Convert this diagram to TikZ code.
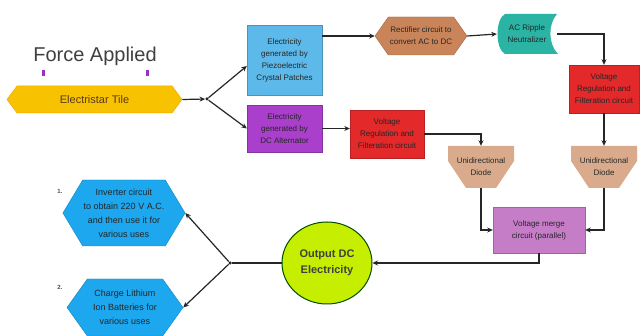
\documentclass[tikz,border=0pt]{standalone}
\usepackage{fontspec}
\setmainfont{Liberation Sans}
\usetikzlibrary{shapes.symbols,shapes.geometric,arrows.meta,calc}
\definecolor{cblue}{HTML}{5DB9E9}
\definecolor{cpurple}{HTML}{A93FCB}
\definecolor{cbrown}{HTML}{C98559}
\definecolor{cteal}{HTML}{2BB3A3}
\definecolor{cred}{HTML}{E4292B}
\definecolor{ctan}{HTML}{D9AB8C}
\definecolor{corchid}{HTML}{C67DC8}
\definecolor{clime}{HTML}{C6EE00}
\definecolor{chex}{HTML}{1CA7EE}
\definecolor{cyellow}{HTML}{F7C300}
\definecolor{cmark}{HTML}{9B30C8}
\begin{document}
\begin{tikzpicture}[x=1pt,y=-1pt,
  every node/.style={inner sep=1pt, align=center, text=black!85},
  box/.style={rectangle, fill=#1, draw=#1!80!black, line width=0.4pt, font=\fontsize{8}{12}\selectfont},
  hexa/.style={signal, signal to=east and west, fill=chex, draw=chex!80!black, line width=0.4pt, font=\fontsize{9}{14}\selectfont},
  arr/.style={draw=black!85, line width=1.2pt, -{Stealth[length=5.5pt,width=5pt]}},
  ln/.style={draw=black!85, line width=1.2pt},
  jdot/.style={circle, fill=black!85, inner sep=0pt, minimum size=3.5pt},
  txt/.style={font=\fontsize{8}{12}\selectfont},
]
\fill[white] (0,0) rectangle (640,336);
\useasboundingbox (0,0) rectangle (640,336);

% Force applied
\node[font=\fontsize{20}{24}\selectfont, text=black!75] (force) at (95,56) {Force Applied};
\fill[cmark] (41.5,70) rectangle (44.5,76);
\fill[cmark] (145.5,70) rectangle (148.5,76);

% tile
\node[signal, signal to=east and west, signal pointer angle=107, fill=cyellow, draw=orange!70!yellow, line width=0.5pt,
      minimum width=175pt, minimum height=27pt, font=\fontsize{11}{13}\selectfont, text=brown!45!black] (tile) at (94.5,99.5) {Electristar Tile};
\node[jdot] (j1) at (207,99) {};

% sources
\node[box=cblue, minimum width=75pt, minimum height=70pt] (piezo) at (284.5,60) {Electricity\\generated by\\Piezoelectric\\Crystal Patches};
\node[box=cpurple, minimum width=75pt, minimum height=47pt] (alt) at (284.5,128.5) {Electricity\\generated by\\DC Alternator};

% rectifier
\node[signal, signal to=east and west, signal pointer angle=110, fill=cbrown, draw=cbrown!80!black, line width=0.4pt,
      minimum width=92pt, minimum height=38pt, font=\fontsize{8}{12}\selectfont] (rect) at (421,36) {Rectifier circuit to\\convert AC to DC};

% AC ripple neutralizer
\fill[cteal] (505,14) -- (557,14) .. controls (548,24) and (548,44) .. (558,54) -- (505,54)
   .. controls (495,49) and (495,19) .. cycle;
\node[txt, minimum width=60pt, minimum height=40pt] (ac) at (527,34) {AC Ripple\\Neutralizer};

% regulation boxes
\node[box=cred, minimum width=70pt, minimum height=48pt] (reg1) at (604,89) {Voltage\\Regulation and\\Filteration circuit};
\node[box=cred, minimum width=74pt, minimum height=48pt] (reg2) at (387,134) {Voltage\\Regulation and\\Filteration circuit};

% diodes
\fill[ctan] (448,146) -- (514,146) -- (514,161) -- (496,188) -- (466,188) -- (448,161) -- cycle;
\node[txt, minimum width=66pt, minimum height=42pt] (d1) at (481,167) {Unidirectional\\Diode};
\fill[ctan] (571,146) -- (637,146) -- (637,161) -- (619,188) -- (589,188) -- (571,161) -- cycle;
\node[txt, minimum width=66pt, minimum height=42pt] (d2) at (604,167) {Unidirectional\\Diode};

% merge
\node[box=corchid, minimum width=92pt, minimum height=46pt] (merge) at (539,230) {Voltage merge\\circuit (parallel)};

% output
\node[ellipse, fill=clime, draw=black!70!green, line width=1pt, minimum width=90pt, minimum height=82pt,
      font=\bfseries\fontsize{11}{16}\selectfont, text=black!75] (out) at (327,263) {Output DC\\Electricity};
\node[jdot] (j2) at (230,263) {};

% uses
\node[hexa, signal pointer angle=118, minimum width=118pt, minimum height=66pt] (inv) at (124,213) {Inverter circuit\\to obtain 220 V A.C.\\and then use it for\\various uses};
\node[hexa, signal pointer angle=109, minimum width=116pt, minimum height=57pt] (bat) at (125,307.5) {Charge Lithium\\Ion Batteries for\\various uses};
\node[font=\bfseries\fontsize{6}{7}\selectfont, text=black!70] (m1) at (60,191) {1.};
\node[font=\bfseries\fontsize{6}{7}\selectfont, text=black!70] (m2) at (60,287) {2.};

% connectors
\draw[arr] (tile.east) -- (j1);
\draw[arr] (j1) -- ([yshift=-6pt]piezo.west);
\draw[arr] (j1) -- (alt.west);
\draw[arr] (piezo.east |- rect.west) -- (rect.west);
\draw[arr] (rect.east) -- (ac.west);
\draw[arr] (ac.east) -| (reg1.north);
\draw[arr] (reg1.south) -- (d2.north);
\draw[arr] (alt.east) -- (alt.east -| reg2.west);
\draw[arr] (reg2.east) -| (d1.north);
\draw[arr] (d1.south) |- (merge.west);
\draw[arr] (d2.south) |- (merge.east);
\draw[arr] (merge.south) |- (out.east);
\draw[ln] (out.west) -- (j2);
\draw[arr] (j2) -- (inv.east);
\draw[arr] (j2) -- (bat.east);
\end{tikzpicture}
\end{document}
